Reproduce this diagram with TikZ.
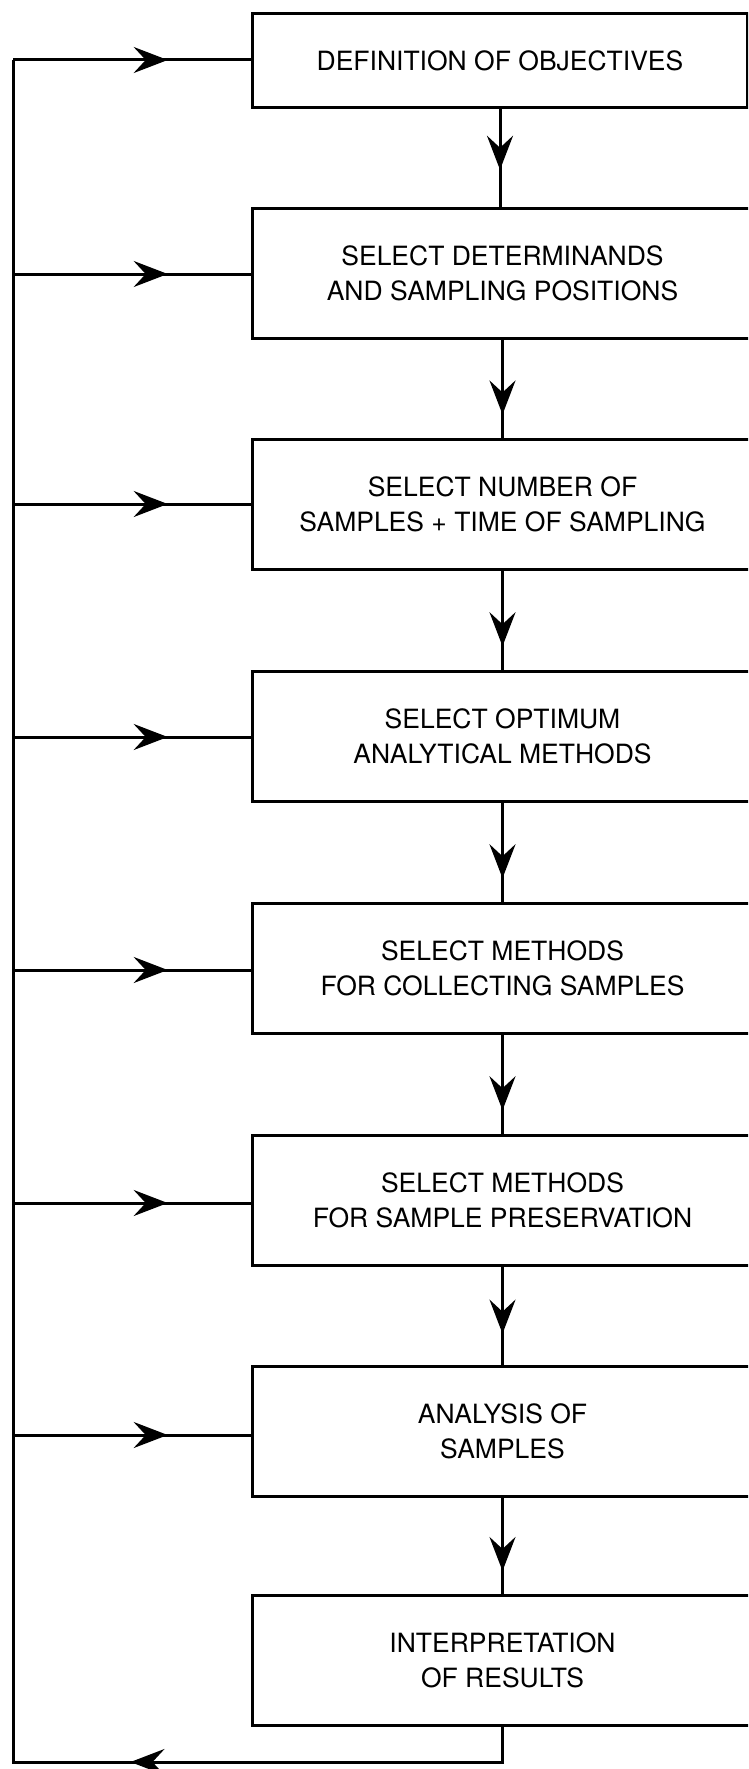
\documentclass[tikz,border=0pt]{standalone}
\usepackage{fontspec}
\setmainfont{TeX Gyre Heros}
\usetikzlibrary{arrows.meta,decorations.markings}

\tikzset{
  stepbox/.style={draw, line width=3pt, anchor=north west, align=center,
    minimum width=500pt, minimum height=130pt, inner sep=0pt,
    font=\fontsize{26.5}{35}\selectfont},
  conn/.style={line width=3pt},
  flow/.style={conn, postaction={decorate},
    decoration={markings, mark=at position #1 with
      {\arrow{Stealth[length=34pt,width=26pt,inset=12pt]}}}},
}

\begin{document}
\begin{tikzpicture}[x=1pt,y=1pt]
\useasboundingbox (0,0) rectangle (748,-1769);
\clip (0,0) rectangle (748,-1769);

% process steps
\node[stepbox, minimum width=495pt, minimum height=94pt] (b1) at (251,-12) {DEFINITION OF OBJECTIVES};
\node[stepbox] (b2) at (251,-207)  {SELECT DETERMINANDS\\AND SAMPLING POSITIONS};
\node[stepbox] (b3) at (251,-438)  {SELECT NUMBER OF\\SAMPLES + TIME OF SAMPLING};
\node[stepbox] (b4) at (251,-670)  {SELECT OPTIMUM\\ANALYTICAL METHODS};
\node[stepbox] (b5) at (251,-902)  {SELECT METHODS\\FOR COLLECTING SAMPLES};
\node[stepbox] (b6) at (251,-1134) {SELECT METHODS\\FOR SAMPLE PRESERVATION};
\node[stepbox] (b7) at (251,-1365) {ANALYSIS OF\\SAMPLES};
\node[stepbox] (b8) at (251,-1594) {INTERPRETATION\\OF RESULTS};

% downward flow between steps
\draw[flow=0.62] (b1.south) -- (b1.south |- b2.north);
\draw[flow=0.76] (b2.south) -- (b2.south |- b3.north);
\draw[flow=0.76] (b3.south) -- (b3.south |- b4.north);
\draw[flow=0.76] (b4.south) -- (b4.south |- b5.north);
\draw[flow=0.76] (b5.south) -- (b5.south |- b6.north);
\draw[flow=0.68] (b6.south) -- (b6.south |- b7.north);
\draw[flow=0.76] (b7.south) -- (b7.south |- b8.north);

% feedback rail on the left
\coordinate (f1) at (13,-60);
\coordinate (f2) at (13,-274);
\coordinate (f3) at (13,-504);
\coordinate (f4) at (13,-737);
\coordinate (f5) at (13,-970);
\coordinate (f6) at (13,-1203);
\coordinate (f7) at (13,-1435);
\coordinate (corner) at (13,-1762);
\coordinate (ret) at (b8.south |- corner);

\draw[conn, line join=miter] (b8.south) -- (ret) -- (corner) -- (f1);
\draw[flow=0.76] (ret) -- (corner);

\draw[flow=0.65] (f1) -- (f1 -| b1.west);
\draw[flow=0.65] (f2) -- (f2 -| b2.west);
\draw[flow=0.65] (f3) -- (f3 -| b3.west);
\draw[flow=0.65] (f4) -- (f4 -| b4.west);
\draw[flow=0.65] (f5) -- (f5 -| b5.west);
\draw[flow=0.65] (f6) -- (f6 -| b6.west);
\draw[flow=0.65] (f7) -- (f7 -| b7.west);
\end{tikzpicture}
\end{document}
